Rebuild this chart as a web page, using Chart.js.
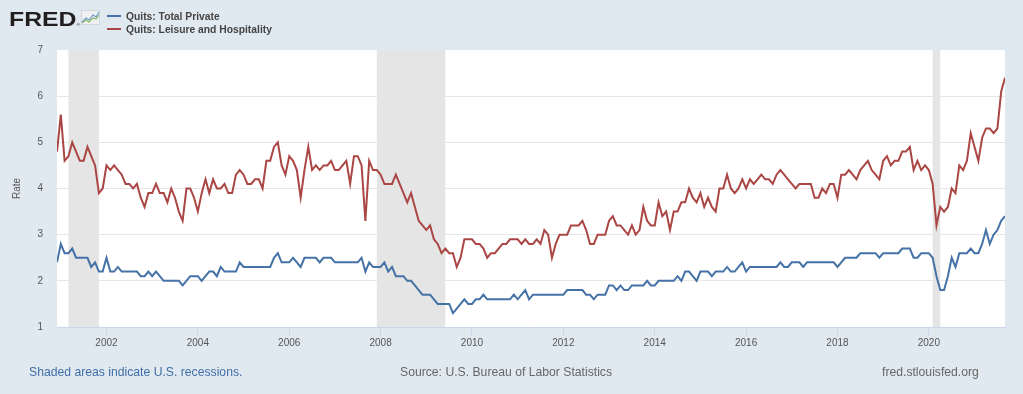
<!DOCTYPE html>
<html>
<head>
<meta charset="utf-8">
<script src="https://cdn.jsdelivr.net/npm/chart.js@4/dist/chart.umd.min.js"></script>
<style>
  html, body { margin: 0; padding: 0; background: #e1e9f0; }
  #wrap { position: relative; width: 1023px; height: 394px; overflow: hidden; font-family: "Liberation Sans", Arial, sans-serif; }
  #chart { position: absolute; left: 0; top: 0; }
  .logo { position: absolute; left: 9px; top: 9px; font-size: 20px; line-height: 20px; font-weight: bold; color: #231f20; transform: scaleX(1.24); transform-origin: 0 0; }
  .logo sup { font-size: 4px; font-weight: normal; vertical-align: baseline; }
  .icon { position: absolute; left: 81px; top: 10px; }
  .legend { position: absolute; left: 107px; font-size: 10.3px; line-height: 12px; font-weight: bold; color: #444; white-space: nowrap; }
  .legend i { display: inline-block; width: 14px; height: 2px; margin-right: 5px; vertical-align: middle; position: relative; top: -1px; }
  .foot { position: absolute; top: 365px; font-size: 12.2px; line-height: 14px; white-space: nowrap; }
</style>
</head>
<body>
<div id="wrap">
  <canvas id="chart" width="1023" height="394"></canvas>
  <div class="logo">FRED<sup>®</sup></div>
  <svg class="icon" width="19" height="15" viewBox="0 0 19 15">
    <rect x="0.5" y="0.5" width="18" height="14" fill="#eef0f2" stroke="#d4d8dc"/>
    <polyline points="1,12 5,8 8,10 12,5 15,7 18,2" fill="none" stroke="#6d9ccf" stroke-width="1.2"/>
    <polyline points="1,13 5,10 8,12 12,8 15,9 18,5" fill="none" stroke="#8ab765" stroke-width="1.2"/>
  </svg>
  <div class="legend" style="top:11px"><i style="background:#4572a7"></i>Quits: Total Private</div>
  <div class="legend" style="top:24px"><i style="background:#aa4643"></i>Quits: Leisure and Hospitality</div>
  <div class="foot" style="left:29px; color:#3f6ea7">Shaded areas indicate U.S. recessions.</div>
  <div class="foot" style="left:400px; color:#666">Source: U.S. Bureau of Labor Statistics</div>
  <div class="foot" style="left:882px; color:#666">fred.stlouisfed.org</div>
</div>
<script>
//
// Monthly series, December 2000 to September 2021
var startYear = 2000;
var startMonth = 12;

var tickYears = ['2002', '2004', '2006', '2008', '2010', '2012', '2014', '2016', '2018', '2020'];

var recessions = [
  ['2001-03', '2001-11'],
  ['2007-12', '2009-06'],
  ['2020-02', '2020-04']
];

// Quits: Total Private
var totalPrivate = [
  2.4, 2.8, 2.6, 2.6, 2.7, 2.5, 2.5, 2.5, 2.5, 2.3, 2.4, 2.2, 2.2,
  2.5, 2.2, 2.2, 2.3, 2.2, 2.2, 2.2, 2.2, 2.2, 2.1, 2.1, 2.2,
  2.1, 2.2, 2.1, 2.0, 2.0, 2.0, 2.0, 2.0, 1.9, 2.0, 2.1, 2.1,
  2.1, 2.0, 2.1, 2.2, 2.2, 2.1, 2.3, 2.2, 2.2, 2.2, 2.2, 2.4,
  2.3, 2.3, 2.3, 2.3, 2.3, 2.3, 2.3, 2.3, 2.5, 2.6, 2.4, 2.4,
  2.4, 2.5, 2.4, 2.3, 2.5, 2.5, 2.5, 2.5, 2.4, 2.5, 2.5, 2.5,
  2.4, 2.4, 2.4, 2.4, 2.4, 2.4, 2.4, 2.5, 2.2, 2.4, 2.3, 2.3,
  2.3, 2.4, 2.2, 2.3, 2.1, 2.1, 2.1, 2.0, 2.0, 1.9, 1.8, 1.7,
  1.7, 1.7, 1.6, 1.5, 1.5, 1.5, 1.5, 1.3, 1.4, 1.5, 1.6, 1.5,
  1.5, 1.6, 1.6, 1.7, 1.6, 1.6, 1.6, 1.6, 1.6, 1.6, 1.6, 1.7,
  1.6, 1.7, 1.8, 1.6, 1.7, 1.7, 1.7, 1.7, 1.7, 1.7, 1.7, 1.7,
  1.7, 1.8, 1.8, 1.8, 1.8, 1.8, 1.7, 1.7, 1.6, 1.7, 1.7, 1.7,
  1.9, 1.9, 1.8, 1.9, 1.8, 1.8, 1.9, 1.9, 1.9, 1.9, 2.0, 1.9,
  1.9, 2.0, 2.0, 2.0, 2.0, 2.0, 2.1, 2.0, 2.2, 2.2, 2.1, 2.0,
  2.2, 2.2, 2.2, 2.1, 2.2, 2.2, 2.2, 2.3, 2.2, 2.2, 2.3, 2.4,
  2.2, 2.3, 2.3, 2.3, 2.3, 2.3, 2.3, 2.3, 2.3, 2.4, 2.3, 2.3,
  2.4, 2.4, 2.4, 2.3, 2.4, 2.4, 2.4, 2.4, 2.4, 2.4, 2.4, 2.4,
  2.3, 2.4, 2.5, 2.5, 2.5, 2.5, 2.6, 2.6, 2.6, 2.6, 2.6, 2.5,
  2.6, 2.6, 2.6, 2.6, 2.6, 2.7, 2.7, 2.7, 2.5, 2.5, 2.6, 2.6,
  2.6, 2.5, 2.1, 1.8, 1.8, 2.1, 2.5, 2.3, 2.6, 2.6, 2.6, 2.7,
  2.6, 2.6, 2.8, 3.1, 2.8, 3.0, 3.1, 3.3, 3.4
];

// Quits: Leisure and Hospitality
var leisureHospitality = [
  4.8, 5.6, 4.6, 4.7, 5.0, 4.8, 4.6, 4.6, 4.9, 4.7, 4.5, 3.9, 4.0,
  4.5, 4.4, 4.5, 4.4, 4.3, 4.1, 4.1, 4.0, 4.1, 3.8, 3.6, 3.9,
  3.9, 4.1, 3.9, 3.9, 3.7, 4.0, 3.8, 3.5, 3.3, 4.0, 4.0, 3.8,
  3.5, 3.9, 4.2, 3.9, 4.2, 4.0, 4.0, 4.1, 3.9, 3.9, 4.3, 4.4,
  4.3, 4.1, 4.1, 4.2, 4.2, 4.0, 4.6, 4.6, 4.9, 5.0, 4.5, 4.3,
  4.7, 4.6, 4.4, 3.8, 4.4, 4.9, 4.4, 4.5, 4.4, 4.5, 4.5, 4.6,
  4.4, 4.4, 4.5, 4.6, 4.1, 4.7, 4.7, 4.5, 3.3, 4.6, 4.4, 4.4,
  4.3, 4.1, 4.1, 4.1, 4.3, 4.1, 3.9, 3.7, 3.9, 3.6, 3.3, 3.2,
  3.1, 3.2, 2.9, 2.8, 2.6, 2.7, 2.6, 2.6, 2.3, 2.5, 2.9, 2.9,
  2.9, 2.8, 2.8, 2.7, 2.5, 2.6, 2.6, 2.7, 2.8, 2.8, 2.9, 2.9,
  2.9, 2.8, 2.9, 2.8, 2.8, 2.9, 2.8, 3.1, 3.0, 2.5, 2.8, 3.0,
  3.0, 3.0, 3.2, 3.2, 3.2, 3.3, 3.1, 2.8, 2.8, 3.0, 3.0, 3.0,
  3.3, 3.4, 3.2, 3.2, 3.1, 3.0, 3.2, 3.0, 3.1, 3.6, 3.3, 3.2,
  3.2, 3.7, 3.4, 3.5, 3.1, 3.5, 3.5, 3.7, 3.7, 4.0, 3.8, 3.7,
  3.9, 3.6, 3.8, 3.6, 3.5, 4.0, 4.0, 4.3, 4.0, 3.9, 4.0, 4.2,
  4.0, 4.2, 4.1, 4.2, 4.3, 4.2, 4.2, 4.1, 4.3, 4.4, 4.3, 4.2,
  4.1, 4.0, 4.1, 4.1, 4.1, 4.1, 3.8, 3.8, 4.0, 3.9, 4.1, 4.1,
  3.8, 4.3, 4.3, 4.4, 4.3, 4.2, 4.4, 4.5, 4.6, 4.4, 4.3, 4.2,
  4.6, 4.7, 4.5, 4.6, 4.6, 4.8, 4.8, 4.9, 4.4, 4.6, 4.4, 4.5,
  4.4, 4.1, 3.2, 3.6, 3.5, 3.6, 4.0, 3.9, 4.5, 4.4, 4.6, 5.2,
  4.9, 4.6, 5.1, 5.3, 5.3, 5.2, 5.3, 6.1, 6.4
];

var fontFamily = '"Liberation Sans", Arial, sans-serif';

// Month string 'YYYY-MM' -> index in the series
function monthIndex(str){
  var parts = str.split('-');
  return (Number(parts[0]) - startYear) * 12 + (Number(parts[1]) - startMonth);
}

function toPoints(values){
  return values.map(function(v, i){ return { x: i, y: v }; });
}

//
// White plot area and recession bands
var plotBackground = {
  id: 'plotBackground',
  beforeDraw: function(chart){
    var ctx = chart.ctx;
    var area = chart.chartArea;
    var xScale = chart.scales.x;
    ctx.save();
    ctx.fillStyle = '#ffffff';
    ctx.fillRect(area.left, area.top, area.right - area.left, area.bottom - area.top);
    ctx.fillStyle = '#e5e5e5';
    recessions.forEach(function(r){
      var x0 = xScale.getPixelForValue(monthIndex(r[0]));
      var x1 = xScale.getPixelForValue(monthIndex(r[1]));
      ctx.fillRect(x0, area.top, x1 - x0, area.bottom - area.top);
    });
    ctx.restore();
  }
};

new Chart(document.getElementById('chart').getContext('2d'), {
  type: 'line',
  data: {
    datasets: [{
      label: 'Quits: Total Private',
      data: toPoints(totalPrivate),
      borderColor: '#4572a7',
      borderWidth: 2,
      pointRadius: 0,
      tension: 0,
      fill: false
    }, {
      label: 'Quits: Leisure and Hospitality',
      data: toPoints(leisureHospitality),
      borderColor: '#aa4643',
      borderWidth: 2,
      pointRadius: 0,
      tension: 0,
      fill: false
    }]
  },
  options: {
    responsive: false,
    animation: false,
    devicePixelRatio: 1,
    layout: { padding: { top: 50, right: 18, left: 0, bottom: 0 } },
    plugins: {
      legend: { display: false },
      tooltip: { enabled: false }
    },
    scales: {
      x: {
        type: 'linear',
        min: 0,
        max: totalPrivate.length - 1,
        afterBuildTicks: function(scale){
          scale.ticks = tickYears.map(function(y){ return { value: monthIndex(y + '-01') }; });
        },
        afterFit: function(scale){ scale.height = 67; },
        ticks: {
          autoSkip: false,
          maxRotation: 0,
          padding: 2,
          color: '#555',
          font: { size: 10, family: fontFamily },
          callback: function(value){
            var i = tickYears.findIndex(function(y){ return monthIndex(y + '-01') === value; });
            return i >= 0 ? tickYears[i] : '';
          }
        },
        grid: { drawOnChartArea: false, tickLength: 8, color: '#ccd6eb' },
        border: { color: '#ccd6eb' }
      },
      y: {
        min: 1,
        max: 7,
        afterFit: function(scale){ scale.width = 57; },
        ticks: {
          stepSize: 1,
          padding: 14,
          color: '#555',
          font: { size: 10, family: fontFamily }
        },
        grid: {
          drawTicks: false,
          color: function(c){
            return (c.tick.value === 1 || c.tick.value === 7) ? 'rgba(0,0,0,0)' : '#e6e6e6';
          }
        },
        border: { display: false },
        title: {
          display: true,
          text: 'Rate',
          color: '#555',
          font: { size: 10, family: fontFamily },
          padding: { top: 11, bottom: 0 }
        }
      }
    }
  },
  plugins: [plotBackground]
});
</script>
</body>
</html>
